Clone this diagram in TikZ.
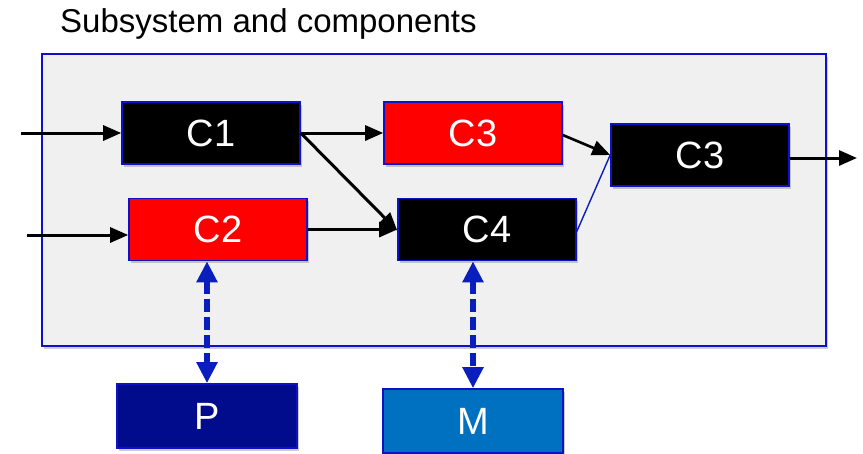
\documentclass[tikz,border=0pt]{standalone}
\usepackage{fontspec}
\setmainfont{Liberation Sans}
\usetikzlibrary{arrows.meta,shadows}
\definecolor{panelgray}{HTML}{F0F0F0}
\definecolor{edgeblue}{HTML}{1010C8}
\definecolor{linkblue}{HTML}{0A1EBE}
\definecolor{boxred}{HTML}{FF0000}
\definecolor{navy}{HTML}{000C8C}
\definecolor{midblue}{HTML}{0070C0}
\tikzset{
  softshadow/.style={drop shadow={shadow xshift=2pt,shadow yshift=-2.5pt,opacity=0.28,fill=black!70}},
  comp/.style={draw=edgeblue,line width=1.6pt,minimum width=178pt,minimum height=62pt,
    inner sep=0pt,text=white,font=\fontsize{38}{40}\selectfont,softshadow},
  blackbox/.style={comp,fill=black},
  redbox/.style={comp,fill=boxred},
  flow/.style={line width=3pt,-{Triangle[length=18pt,width=15pt]}},
  link/.style={draw=linkblue,line width=1.4pt},
  dlink/.style={draw=linkblue,line width=5.5pt,dash pattern=on 13pt off 5pt,
    {Triangle[length=21pt,width=20pt]}-{Triangle[length=21pt,width=20pt]}}
}
\begin{document}
\begin{tikzpicture}[x=1pt,y=-1pt]
\useasboundingbox (0,0) rectangle (863,453);
% title and subsystem frame
\node[anchor=base west,inner sep=0pt,font=\fontsize{33}{36}\selectfont] (title) at (60,32) {Subsystem and components};
\node[draw=edgeblue,fill=panelgray,line width=1.6pt,minimum width=784pt,minimum height=292pt,
  inner sep=0pt,softshadow] (frame) at (434,200) {};
% components
\node[blackbox] (c1) at (211,133) {C1};
\node[redbox]   (c2) at (218,229.5) {C2};
\node[redbox]   (c3a) at (473,133) {C3};
\node[blackbox] (c4) at (487,229.5) {C4};
\node[blackbox] (c3b) at (700,155) {C3};
% external blocks
\node[comp,fill=navy,minimum width=180pt,minimum height=64pt] (p) at (207,416) {P};
\node[comp,fill=midblue,minimum width=180pt,minimum height=64pt] (m) at (473,421) {M};
% free ends of the inputs and output
\coordinate (in1) at (21,133);
\coordinate (in2) at (27,235);
\coordinate (out) at (857,158);
% signal flow
\draw[flow] (in1) -- (c1.west);
\draw[flow] (in2) -- (c2.west |- in2);
\draw[flow] (c1.east) -- (c3a.west);
\draw[flow] (c1.east) -- ([yshift=-1pt]c4.west);
\draw[flow] (c2.east) -- (c4.west);
\draw[flow,line width=2.6pt] ([yshift=-2pt]c3a.east) -- (c3b.west);
\draw[link] ([yshift=-2pt]c4.east) -- (c3b.west);
\draw[flow] (c3b.east |- out) -- (out);
% links to the external blocks
\draw[dlink] (c2.south -| p.north) -- (p.north);
\draw[dlink] (c4.south -| m.north) -- (m.north);
\end{tikzpicture}
\end{document}
